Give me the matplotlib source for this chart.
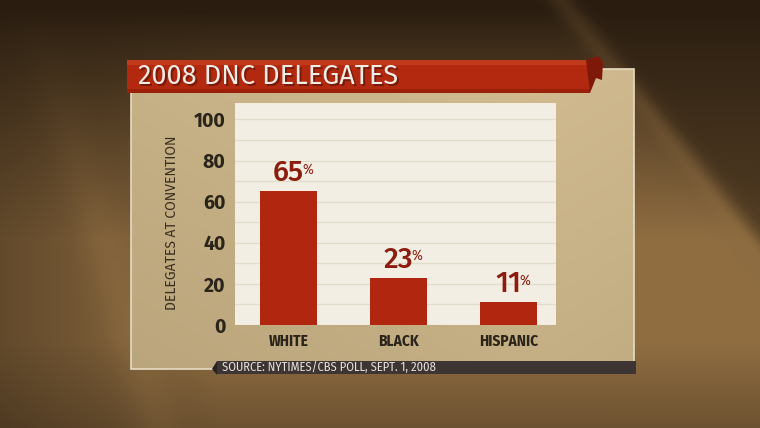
import matplotlib
matplotlib.use("Agg")
import matplotlib.pyplot as plt
import numpy as np
from matplotlib.patches import Rectangle, Polygon

# --- Data ---------------------------------------------------------------------
categories = ["WHITE", "BLACK", "HISPANIC"]
shares = [65, 23, 11]
yticks = [0, 20, 40, 60, 80, 100]

TITLE = "2008 DNC DELEGATES"
YLABEL = "DELEGATES AT CONVENTION"
SOURCE = "SOURCE: NYTIMES/CBS POLL, SEPT. 1, 2008"

# --- Style --------------------------------------------------------------------
W, H = 760, 428
BAR_RED = "#b0260f"
LABEL_RED = "#8c1c0e"
DARK_TEXT = "#2b241a"
PANEL = "#f3eee3"
GRID = "#e2dacb"
COND = ["Fira Sans Condensed", "DejaVu Sans"]
WIDE = ["Fira Sans", "DejaVu Sans"]


def background():
    """Dark brown / gold studio backdrop."""
    yy, xx = np.mgrid[0:H, 0:W].astype(float)
    t = np.clip((yy - 10) / 230, 0, 1) ** 0.9
    t *= 1 - 0.35 * np.clip((yy - 340) / 90, 0, 1)
    t *= 0.55 + 0.45 * np.clip(xx / 220, 0, 1)
    # dark top-right wedge above a diagonal fold
    edge = (xx - 560) - yy * 0.8
    t *= 1 - 0.6 / (1 + np.exp(-edge / 8))
    t = t + 0.2 * np.exp(-(edge / 14) ** 2) * (yy < 300)
    # faint light streak on the left
    t = t + 0.1 * np.exp(-((xx - 0.3 * yy - 30) / 25) ** 2) * np.clip(yy / 200, 0, 1)
    t = np.clip(t, 0, 1)
    dark = np.array([0x2a, 0x1d, 0x10]) / 255
    gold = np.array([0x90, 0x6e, 0x42]) / 255
    return dark + (gold - dark) * t[..., None]


fig = plt.figure(figsize=(W / 100, H / 100), dpi=100)
bg = fig.add_axes([0, 0, 1, 1])
bg.imshow(background(), extent=(0, W, H, 0), aspect="auto", zorder=0)
bg.set_xlim(0, W)
bg.set_ylim(H, 0)
bg.axis("off")

# tan card
gy, gx = np.mgrid[0:300, 0:500] / np.array([300.0, 500.0])[:, None, None]
shade = 0.5 * gy + 0.5 * np.abs(gx - 0.8)
card_img = np.dstack([
    0.82 - 0.10 * shade,
    0.73 - 0.09 * shade,
    0.56 - 0.08 * shade,
])
bg.imshow(card_img, extent=(131, 634, 369, 69), aspect="auto", zorder=1)
bg.add_patch(Rectangle((131, 69), 503, 300, fill=False, ec="#e6dcc4", lw=1.2, zorder=2))

# red title banner with curl
bg.add_patch(Rectangle((127, 60), 463, 33, fc="#b3290f", ec="none", zorder=3))
bg.add_patch(Rectangle((127, 60), 463, 5, fc="#c23a1c", ec="none", zorder=3))
bg.add_patch(Rectangle((127, 89), 463, 4, fc="#9a200a", ec="none", zorder=3))
bg.add_patch(Polygon([(586, 60), (598, 56), (603, 62), (602, 80), (596, 78), (590, 93)],
                     closed=True, fc="#7e1808", ec="none", zorder=3))
bg.text(139.5, 78, TITLE, color="#3a0e05", fontsize=19.5, family=WIDE, fontweight="normal",
        va="center", ha="left", zorder=4, alpha=0.5)
bg.text(138, 76.5, TITLE, color="#f1ece6", fontsize=19.5, family=WIDE, fontweight="normal",
        va="center", ha="left", zorder=5)

# source strip
bg.add_patch(Rectangle((217, 361), 419, 13, fc="#3d3434", ec="none", zorder=3))
bg.add_patch(Polygon([(212, 369), (217, 361), (217, 375)], closed=True,
                     fc="#2a2222", ec="none", zorder=3))
bg.text(222, 367.5, SOURCE, color="#e4dfda", fontsize=9, family=COND,
        va="center", ha="left", zorder=4)

# --- Chart --------------------------------------------------------------------
ax = fig.add_axes([235 / W, 1 - 325 / H, (556 - 235) / W, (325 - 103) / H])
ax.set_facecolor(PANEL)
x = np.arange(len(categories))
ax.bar(x, shares, width=0.52, color=BAR_RED, zorder=3)
ax.set_xlim(-0.486, 2.43)
ax.set_ylim(0, 108)
ax.set_yticks(yticks)
ax.set_yticks(np.arange(10, 108, 10), minor=True)
ax.grid(axis="y", which="both", color=GRID, lw=0.9, zorder=1)
for sp in ax.spines.values():
    sp.set_visible(False)
ax.tick_params(axis="both", which="both", length=0)
ax.tick_params(axis="y", pad=7, labelsize=14, labelcolor=DARK_TEXT)
ax.tick_params(axis="x", pad=6, labelsize=11, labelcolor=DARK_TEXT)
ax.set_xticks(x)
ax.set_xticklabels(categories)
for lbl in ax.get_yticklabels():
    lbl.set_fontweight("bold")
    lbl.set_family(WIDE)
for lbl in ax.get_xticklabels():
    lbl.set_fontweight("bold")
    lbl.set_family(COND)
ax.set_ylabel(YLABEL, fontsize=10, color="#3a3020", family=WIDE)
ax.yaxis.set_label_coords(-0.174, 0.46)

for xi, v in zip(x, shares):
    num = ax.annotate(f"{v}", (xi, v), xytext=(0, 3), textcoords="offset points",
                      ha="center", va="bottom", fontsize=21, fontweight="medium",
                      color=LABEL_RED, family=WIDE, zorder=4)
    ax.annotate("%", (1, 0.88), xycoords=num, xytext=(-1.5, 0), textcoords="offset points",
                ha="left", va="top", fontsize=10.5, color=LABEL_RED, family=COND)

fig.savefig("out.png", dpi=100)
